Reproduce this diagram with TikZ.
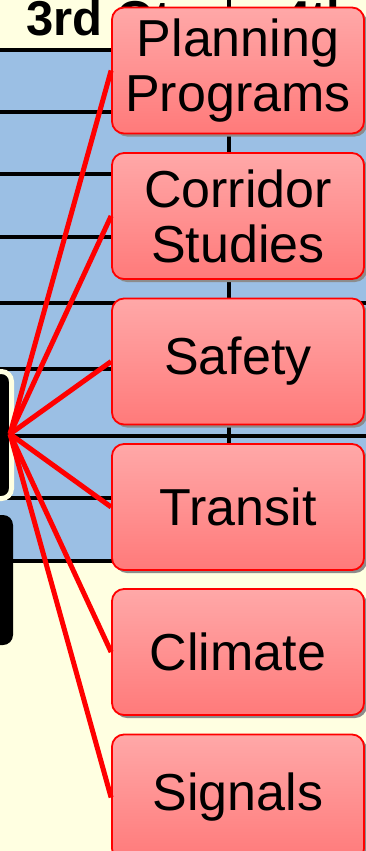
\documentclass[tikz,border=0pt]{standalone}
\usepackage{fontspec}
\setmainfont{Liberation Sans}
\usetikzlibrary{shadows}

\definecolor{cream}{RGB}{255,255,225}
\definecolor{paleblue}{RGB}{155,191,228}
\definecolor{boxtop}{RGB}{255,168,168}
\definecolor{boxbot}{RGB}{255,122,122}

\tikzset{
  topic/.style={draw=red, line width=1.8pt, rounded corners=12pt,
    top color=boxtop, bottom color=boxbot,
    minimum width=252pt, minimum height=126pt, inner sep=0pt,
    align=center, font=\fontsize{52}{55}\selectfont,
    general shadow={fill=black!45, shadow xshift=3pt, shadow yshift=-3pt}},
  grid line/.style={black, line width=3.2pt},
  link/.style={red, line width=5pt}
}

\begin{document}
\begin{tikzpicture}[x=1pt, y=-1pt]
	\useasboundingbox (0,0) rectangle (366,851);
	\clip (0,0) rectangle (366,851);

	% === background: header row and blue schedule band ===
	\fill[cream] (0,0) rectangle (366,851);
	\fill[paleblue] (0,50) rectangle (366,561);

	% header text, mostly hidden under the boxes
	\node[anchor=base west, inner sep=0pt, font=\fontsize{49}{58}\selectfont\bfseries] (q3) at (26,36) {3rd Qtr};
	\node[anchor=base west, inner sep=0pt, font=\fontsize{49}{58}\selectfont\bfseries] (q4) at (283,36) {4th Qtr};

	% row lines
	\draw[grid line] (0,50) -- (366,50);
	\draw[grid line] (0,112) -- (366,112);
	\draw[grid line] (0,174) -- (366,174);
	\draw[grid line] (0,237) -- (366,237);
	\draw[grid line] (0,303) -- (366,303);
	\draw[grid line] (0,369) -- (366,369);
	\draw[grid line] (0,436) -- (366,436);
	\draw[grid line] (0,498) -- (366,498);
	\draw[grid line] (0,561) -- (366,561);
	% quarter divider
	\draw[grid line] (229,0) -- (229,561);

	% === left edge: black task bars ===
	\draw[fill=black, draw=cream, line width=5pt, rounded corners=10pt] (-50,371.5) rectangle (11.5,498.5);
	\fill[black, rounded corners=10pt] (-50,515) rectangle (13,645);

	% === topic boxes ===
	\node[topic] (plan)  at (238,70.5)  {Planning\\Programs};
	\node[topic] (corr)  at (238,216)   {Corridor\\Studies};
	\node[topic] (safe)  at (238,361.5) {Safety};
	\node[topic] (trans) at (238,507)   {Transit};
	\node[topic] (clim)  at (238,652)   {Climate};
	\node[topic] (sig)   at (238,797.5) {Signals};

	% === links from the task bar ===
	\coordinate (hub) at (10,434);
	\draw[link] (hub) -- (plan.west);
	\draw[link] (hub) -- (corr.west);
	\draw[link] (hub) -- (safe.west);
	\draw[link] (hub) -- (trans.west);
	\draw[link] (hub) -- (clim.west);
	\draw[link] (hub) -- (sig.west);
\end{tikzpicture}
\end{document}
